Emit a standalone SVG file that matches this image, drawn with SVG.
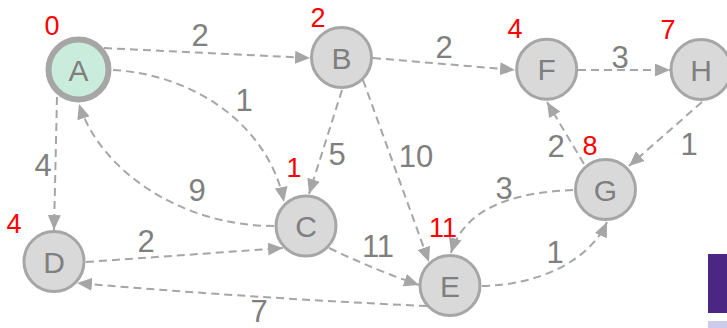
<svg xmlns="http://www.w3.org/2000/svg" width="727" height="328" viewBox="0 0 727 328">
<style>
.n{fill:#d9d9d9;stroke:#a6a6a6;stroke-width:3}
.lt{font-family:"Liberation Sans",Arial,sans-serif;font-size:30px;fill:#7f7f7f;text-anchor:middle}
.w{font-family:"Liberation Sans",Arial,sans-serif;font-size:31px;fill:#7f7f7f;text-anchor:middle}
.d{font-family:"Liberation Sans",Arial,sans-serif;font-size:27px;fill:#ff0000;text-anchor:middle}
.e{fill:none;stroke:#a6a6a6;stroke-width:2;stroke-dasharray:8 5;marker-end:url(#arr)}
</style>
<defs>
<marker id="arr" viewBox="0 0 15 13" refX="15" refY="6.5" markerWidth="15" markerHeight="13" orient="auto" markerUnits="userSpaceOnUse">
<path d="M0,0 L15,6.5 L0,13 z" fill="#a6a6a6"/>
</marker>
</defs>
<rect width="727" height="328" fill="#ffffff"/>
<rect x="708" y="254" width="19" height="59" fill="#4b2683"/>
<rect x="708" y="321" width="19" height="7" fill="#ccccea"/>
<g id="connectors">
<path class="e" d="M104,48 L310,58"/>
<path class="e" d="M113,70 C200,75 270,130 284,202"/>
<path class="e" d="M57,97 L54,230"/>
<path class="e" d="M274,226 C180,226 100,170 79,104"/>
<path class="e" d="M342,90 L309,194"/>
<path class="e" d="M363,80 L429,262"/>
<path class="e" d="M373,58 L515,70"/>
<path class="e" d="M578,70 L670,70"/>
<path class="e" d="M702,102 L629,166"/>
<path class="e" d="M584,164 L547,102"/>
<path class="e" d="M573,190 C520,192 465,205 451,253"/>
<path class="e" d="M482,286 C540,285 590,260 607,222"/>
<path class="e" d="M329,248 Q375,270 419,285"/>
<path class="e" d="M86,262 L283,248"/>
<path class="e" d="M427,306 Q250,298 77,283"/>
</g>
<g id="labels">
<text class="w" x="200" y="46">2</text>
<text class="w" x="244" y="111">1</text>
<text class="w" x="43" y="176">4</text>
<text class="w" x="337" y="165">5</text>
<text class="w" x="416" y="167">10</text>
<text class="w" x="444" y="58">2</text>
<text class="w" x="620" y="68">3</text>
<text class="w" x="556" y="157">2</text>
<text class="w" x="689" y="155">1</text>
<text class="w" x="197" y="201">9</text>
<text class="w" x="146" y="252">2</text>
<text class="w" x="378" y="257">11</text>
<text class="w" x="259" y="322">7</text>
<text class="w" x="504" y="199">3</text>
<text class="w" x="555" y="263">1</text>
</g>
<g id="A">
<circle cx="78.5" cy="69.5" r="30" fill="#c9ecdc" stroke="#a6a6a6" stroke-width="6"/>
<text class="lt" x="78.5" y="80.5">A</text>
<text class="d" x="52" y="35">0</text>
</g>
<g id="B">
<circle class="n" cx="341.5" cy="57.5" r="30"/>
<text class="lt" x="341.5" y="68.5">B</text>
<text class="d" x="318" y="27">2</text>
</g>
<g id="C">
<circle class="n" cx="306" cy="226" r="30"/>
<text class="lt" x="306" y="237">C</text>
<text class="d" x="294" y="177">1</text>
</g>
<g id="D">
<circle class="n" cx="54" cy="261.5" r="30"/>
<text class="lt" x="54" y="272.5">D</text>
<text class="d" x="14" y="233">4</text>
</g>
<g id="E">
<circle class="n" cx="450" cy="285.5" r="30"/>
<text class="lt" x="450" y="296.5">E</text>
<text class="d" x="443" y="237">11</text>
</g>
<g id="F">
<circle class="n" cx="546.7" cy="69.3" r="30"/>
<text class="lt" x="546.7" y="80.3">F</text>
<text class="d" x="515" y="38">4</text>
</g>
<g id="G">
<circle class="n" cx="605.5" cy="189.5" r="30"/>
<text class="lt" x="605.5" y="200.5">G</text>
<text class="d" x="590" y="155">8</text>
</g>
<g id="H">
<circle class="n" cx="701" cy="69.5" r="30"/>
<text class="lt" x="701" y="80.5">H</text>
<text class="d" x="668" y="39">7</text>
</g>
</svg>
